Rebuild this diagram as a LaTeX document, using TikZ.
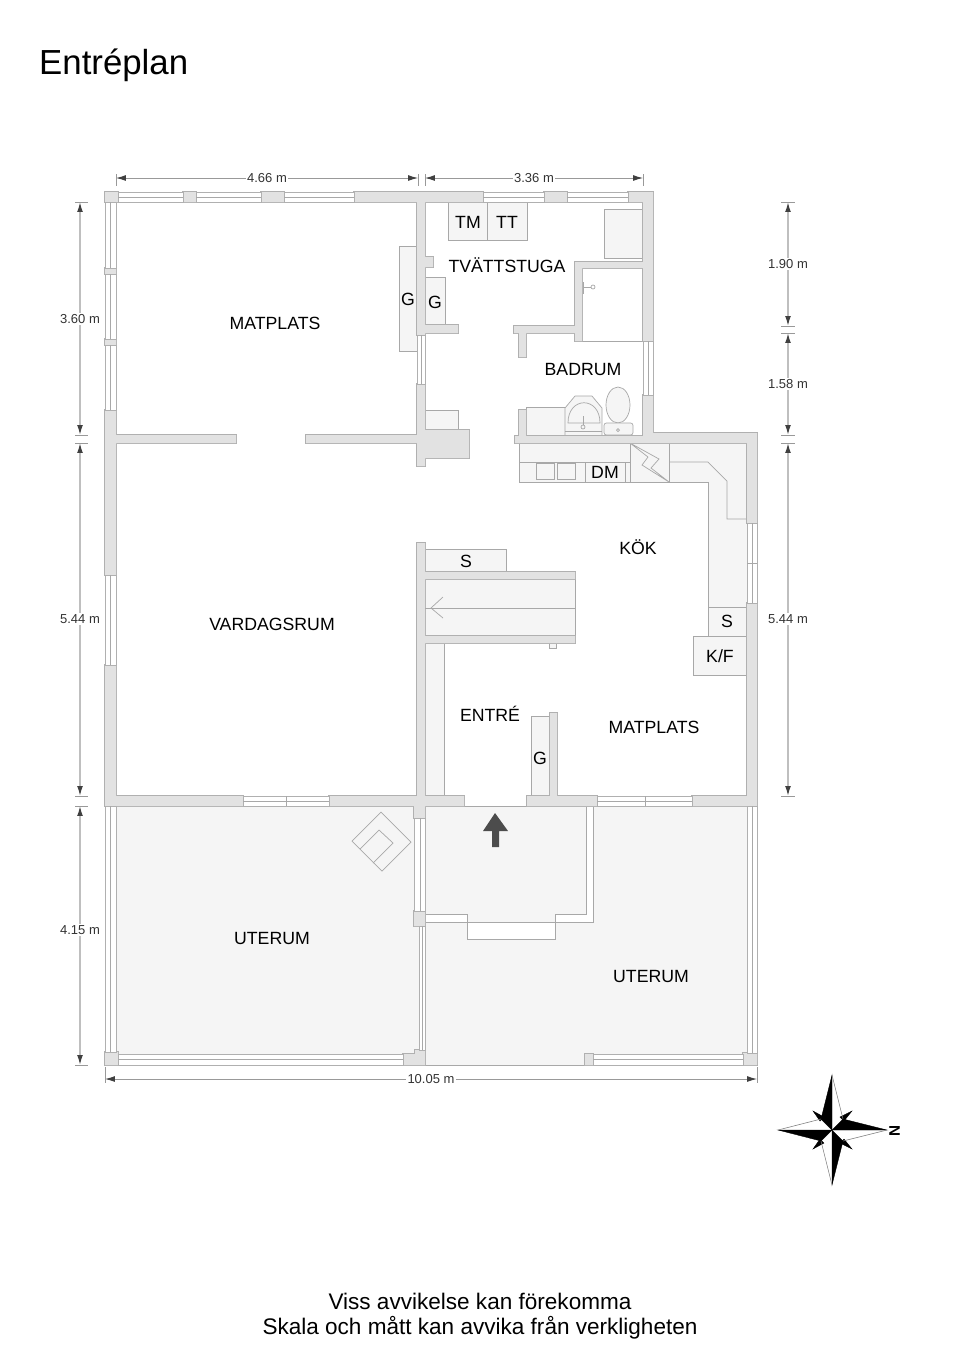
\documentclass[tikz,border=0pt]{standalone}
\usepackage{xcolor}
\usepackage{fontspec}
\setmainfont{Liberation Sans}
\usetikzlibrary{arrows.meta}

\definecolor{wallgray}{HTML}{E2E2E2}
\definecolor{walledge}{HTML}{B0B0B0}
\definecolor{fixturegray}{HTML}{F5F5F5}
\definecolor{fixtureedge}{HTML}{A8A8A8}
\definecolor{dimgray}{HTML}{999999}

% all wall pieces, in pixels of the plan
\newcommand{\wallpieces}{
	(105,192) rectangle (118,202) (183,192) rectangle (196,202) (261,192) rectangle (284,202)
	(354,192) rectangle (483,202) (544,192) rectangle (567,202) (628,192) rectangle (653,202)
	(643,192) rectangle (653,341) (643,395) rectangle (653,443)
	(515,436) rectangle (653,443) (653,433) rectangle (757,443)
	(747,433) rectangle (757,523) (747,603) rectangle (757,806)
	(417,192) rectangle (425,335) (417,384) rectangle (425,466)
	(425,257) rectangle (433,267) (425,325) rectangle (458,333) (425,430) rectangle (469,458)
	(575,262) rectangle (643,268) (575,262) rectangle (582,341) (514,326) rectangle (582,333)
	(519,333) rectangle (526,357) (519,410) rectangle (526,436)
	(105,410) rectangle (116,575) (105,665) rectangle (116,806)
	(105,268) rectangle (116,274) (105,339) rectangle (116,345)
	(116,435) rectangle (236,443) (306,435) rectangle (417,443)
	(105,796) rectangle (243,806) (329,796) rectangle (464,806)
	(527,796) rectangle (597,806) (692,796) rectangle (757,806)
	(417,543) rectangle (425,806) (414,806) rectangle (425,818) (414,911) rectangle (425,926)
	(425,572) rectangle (575,579) (425,636) rectangle (575,643)
	(550,713) rectangle (557,796)
	(105,1052) rectangle (118,1065) (403,1054) rectangle (425,1065) (415,1050) rectangle (425,1054)
	(585,1054) rectangle (593,1065) (743,1053) rectangle (757,1065)
}

\begin{document}
\begin{tikzpicture}[x=0.03cm,y=-0.03cm]
	\tikzstyle{wall}=[draw=walledge, line width=1.2pt]
	\tikzstyle{wallfill}=[fill=wallgray]
	\tikzstyle{fixture}=[fill=fixturegray, draw=fixtureedge, line width=0.6pt]
	\tikzstyle{window}=[fill=white, draw=walledge, line width=0.6pt]
	\tikzstyle{hairline}=[draw=fixtureedge, line width=0.6pt]
	\tikzstyle{dimline}=[draw=dimgray, line width=0.7pt, {Latex[length=8.5pt,width=5pt,color=black!75]}-{Latex[length=8.5pt,width=5pt,color=black!75]}]
	\tikzstyle{dimlinev}=[dimline, draw=black!25, line width=1.2pt]
	\tikzstyle{dimtick}=[draw=dimgray, line width=0.5pt]
	\tikzstyle{dimlabel}=[fill=white, inner sep=1pt, text=black!80, font=\fontsize{11.1}{13}\selectfont]
	\tikzstyle{roomlabel}=[inner sep=0pt, text=black, font=\fontsize{15.1}{17}\selectfont]
	\tikzstyle{footer}=[inner sep=0pt, font=\fontsize{19.25}{23}\selectfont]
	\tikzstyle{needle}=[fill=black, draw=black, line width=0.3pt]
	\tikzstyle{needleback}=[draw=black!50, line width=0.5pt]

	\useasboundingbox (0,0) rectangle (960,1358);

	\node[inner sep=0pt, anchor=west, font=\fontsize{29.7}{34}\selectfont](title) at (39,65) {Entréplan};

	% uterum floors
	\fill[fixturegray] (116,806) rectangle (425,1065);
	\fill[fixturegray] (425,806) rectangle (747,1065);
	\draw[hairline] (425,806) -- (747,806);
	\draw[hairline] (425,1065) -- (585,1065);

	% porch
	\fill[white] (425,914) rectangle (467,922);
	\fill[white] (555,914) -- (586,914) -- (586,806) -- (593,806) -- (593,922) -- (555,922) -- cycle;
	\fill[white] (467,922) rectangle (555,939);
	\draw[hairline] (425,914) -- (467,914) -- (467,939) -- (555,939) -- (555,914) -- (586,914) -- (586,806);
	\draw[hairline] (593,806) -- (593,922) -- (425,922);

	% stove on the uterum floor
	\draw[hairline] (381,812) -- (411,842) -- (382,871) -- (352,841) -- cycle;
	\draw[hairline] (360,849) -- (379,830) -- (393,843) -- (373,863);

	% entry arrow
	\fill[black!70] (495,813) -- (508,831) -- (499,831) -- (499,847) -- (492,847) -- (492,831) -- (483,831) -- cycle;

	% fixtures
	\draw[fixture] (399,246) rectangle (417,351);
	\draw[fixture] (425,277) rectangle (445,325);
	\draw[fixture] (448,202) rectangle (487,240);
	\draw[fixture] (487,202) rectangle (527,240);
	\draw[fixture] (604,209) rectangle (643,258);
	\draw[fixture] (425,410) rectangle (458,430);
	\draw[fixture] (526,407) rectangle (565,436);
	\draw[fixture] (425,549) rectangle (506,572);
	\draw[fixture] (425,579) rectangle (575,636);
	\draw[fixture] (549,643) rectangle (556,648);
	\draw[fixture] (425,643) rectangle (444,796);
	\draw[fixture] (531,716) rectangle (550,796);

	% bathroom
	\draw[fixture] (565,436) -- (565,408) -- (575,396) -- (592,396) -- (602,408) -- (602,436) -- cycle;
	\draw[hairline] (568,423) .. controls (568,396) and (600,396) .. (600,423) -- cycle;
	\draw[hairline] (565,431) -- (602,431);
	\draw[hairline] (583,416) -- (583,425);
	\draw[hairline] (583,427) circle (2);
	\draw[fixture] (618,405) ellipse (12 and 18);
	\draw[fixture, rounded corners=2pt] (604,423) rectangle (633,435);
	\draw[hairline] (618,430) circle (1.5);
	\draw[hairline] (582,341) -- (643,341);
	\draw[hairline] (583,282) -- (583,294);
	\draw[hairline] (581,287) -- (591,287);
	\draw[hairline] (593,287) circle (2);

	% kitchen
	\draw[fixture] (519,443) rectangle (630,482);
	\draw[hairline] (519,462) -- (630,462);
	\draw[hairline] (536,463) rectangle (554,479);
	\draw[hairline] (557,463) rectangle (575,479);
	\draw[hairline] (585,462) -- (585,482);
	\draw[hairline] (625,462) -- (625,482);
	\draw[fixture] (630,443) rectangle (669,482);
	\draw[hairline] (630,443) -- (659,459) -- (651,468) -- (669,482) -- (642,465) -- (648,457) -- cycle;
	\draw[fixture] (669,443) -- (747,443) -- (747,607) -- (708,607) -- (708,482) -- (669,482) -- cycle;
	\draw[hairline] (669,462) -- (708,462) -- (727,481) -- (727,519) -- (747,519);
	\draw[fixture] (708,607) rectangle (747,636);
	\draw[fixture] (693,636) rectangle (747,675);

	% walls, outlines first so that the pieces merge
	\draw[wall] \wallpieces;
	\fill[wallfill] \wallpieces;

	% counter with arrow
	\draw[hairline] (425,608) -- (575,608);
	\draw[hairline] (443,597) -- (431,608) -- (443,618);

	% windows
	\draw[window] (118,192) rectangle (183,202);
	\draw[window] (196,192) rectangle (261,202);
	\draw[window] (284,192) rectangle (354,202);
	\draw[window] (483,192) rectangle (544,202);
	\draw[window] (567,192) rectangle (628,202);
	\draw[hairline] (118,197) -- (183,197);
	\draw[hairline] (196,197) -- (261,197);
	\draw[hairline] (284,197) -- (354,197);
	\draw[hairline] (483,197) -- (544,197);
	\draw[hairline] (567,197) -- (628,197);
	\draw[window] (105,202) rectangle (116,268);
	\draw[window] (105,274) rectangle (116,339);
	\draw[window] (105,345) rectangle (116,410);
	\draw[window] (105,575) rectangle (116,665);
	\draw[window] (105,806) rectangle (116,1052);
	\draw[hairline] (110.5,202) -- (110.5,268);
	\draw[hairline] (110.5,274) -- (110.5,339);
	\draw[hairline] (110.5,345) -- (110.5,410);
	\draw[hairline] (110.5,575) -- (110.5,665);
	\draw[hairline] (110.5,806) -- (110.5,1052);
	\draw[window] (417,335) rectangle (425,384);
	\draw[hairline] (421,335) -- (421,384);
	\draw[window] (643,341) rectangle (653,395);
	\draw[hairline] (648,341) -- (648,395);
	\draw[window] (747,523) rectangle (757,603);
	\draw[hairline] (752,523) -- (752,603);
	\draw[hairline] (747,563) -- (757,563);
	\draw[window] (243,796) rectangle (329,806);
	\draw[hairline] (243,801) -- (329,801);
	\draw[hairline] (286,796) -- (286,806);
	\draw[window] (597,796) rectangle (692,806);
	\draw[hairline] (597,801) -- (692,801);
	\draw[hairline] (645,796) -- (645,806);
	\draw[window] (414,818) rectangle (425,911);
	\draw[hairline] (420,818) -- (420,911);
	\draw[window] (419,926) rectangle (425,1050);
	\draw[hairline] (422,926) -- (422,1050);
	\draw[window] (118,1054) rectangle (403,1065);
	\draw[hairline] (118,1059) -- (403,1059);
	\draw[window] (593,1054) rectangle (743,1065);
	\draw[hairline] (593,1059) -- (743,1059);
	\draw[window] (747,806) rectangle (757,1053);
	\draw[hairline] (752,806) -- (752,1053);

	% rooms
	\node[roomlabel](matplats1) at (275,323.5) {MATPLATS};
	\node[roomlabel](tvatt) at (507,265) {TVÄTTSTUGA};
	\node[roomlabel](tm) at (468,222.5) {TM};
	\node[roomlabel](tt) at (507,222.5) {TT};
	\node[roomlabel](g1) at (408,299.5) {G};
	\node[roomlabel](g2) at (435,302.5) {G};
	\node[roomlabel](badrum) at (583,369.5) {BADRUM};
	\node[roomlabel](dm) at (605,472.5) {DM};
	\node[roomlabel](kok) at (638,547) {KÖK};
	\node[roomlabel](s1) at (466,561.5) {S};
	\node[roomlabel](vardagsrum) at (272,624) {VARDAGSRUM};
	\node[roomlabel](s2) at (727,621.5) {S};
	\node[roomlabel](kf) at (720,656.5) {K/F};
	\node[roomlabel](entre) at (490,714) {ENTRÉ};
	\node[roomlabel](matplats2) at (654,727.5) {MATPLATS};
	\node[roomlabel](g3) at (540,758.5) {G};
	\node[roomlabel](uterum1) at (272,938.5) {UTERUM};
	\node[roomlabel](uterum2) at (651,976.5) {UTERUM};

	% measures on top
	\coordinate(topa) at (116,178);
	\coordinate(topb) at (418,178);
	\coordinate(topc) at (425,178);
	\coordinate(topd) at (643,178);
	\draw[dimline](topa) to (topb);
	\draw[dimline](topc) to (topd);
	\draw[dimtick](topa) ++(0,-4) -- +(0,12);
	\draw[dimtick](topb) ++(0,-4) -- +(0,12);
	\draw[dimtick](topc) ++(0,-4) -- +(0,12);
	\draw[dimtick](topd) ++(0,-4) -- +(0,12);
	\node[dimlabel](dima) at (267,178) {4.66 m};
	\node[dimlabel](dimb) at (534,178) {3.36 m};

	% measure below
	\coordinate(bota) at (105,1079);
	\coordinate(botb) at (757,1079);
	\draw[dimline](bota) to (botb);
	\draw[dimtick](bota) ++(0,-12) -- +(0,16);
	\draw[dimtick](botb) ++(0,-12) -- +(0,16);
	\node[dimlabel](dimc) at (431,1079) {10.05 m};

	% measures left
	\coordinate(lefta) at (80,202);
	\coordinate(leftb) at (80,435);
	\coordinate(leftc) at (80,443);
	\coordinate(leftd) at (80,796);
	\coordinate(lefte) at (80,806);
	\coordinate(leftf) at (80,1065);
	\draw[dimlinev](lefta) to (leftb);
	\draw[dimlinev](leftc) to (leftd);
	\draw[dimlinev](lefte) to (leftf);
	\draw[dimtick](lefta) ++(-5,0) -- +(13,0);
	\draw[dimtick](leftb) ++(-5,0) -- +(13,0);
	\draw[dimtick](leftc) ++(-5,0) -- +(13,0);
	\draw[dimtick](leftd) ++(-5,0) -- +(13,0);
	\draw[dimtick](lefte) ++(-5,0) -- +(13,0);
	\draw[dimtick](leftf) ++(-5,0) -- +(13,0);
	\node[dimlabel](dimd) at (80,319) {3.60 m};
	\node[dimlabel](dime) at (80,619) {5.44 m};
	\node[dimlabel](dimf) at (80,930) {4.15 m};

	% measures right
	\coordinate(righta) at (788,202);
	\coordinate(rightb) at (788,326);
	\coordinate(rightc) at (788,333);
	\coordinate(rightd) at (788,435);
	\coordinate(righte) at (788,443);
	\coordinate(rightf) at (788,796);
	\draw[dimlinev](righta) to (rightb);
	\draw[dimlinev](rightc) to (rightd);
	\draw[dimlinev](righte) to (rightf);
	\draw[dimtick](righta) ++(-7,0) -- +(14,0);
	\draw[dimtick](rightb) ++(-7,0) -- +(14,0);
	\draw[dimtick](rightc) ++(-7,0) -- +(14,0);
	\draw[dimtick](rightd) ++(-7,0) -- +(14,0);
	\draw[dimtick](righte) ++(-7,0) -- +(14,0);
	\draw[dimtick](rightf) ++(-7,0) -- +(14,0);
	\node[dimlabel](dimg) at (788,264) {1.90 m};
	\node[dimlabel](dimh) at (788,384) {1.58 m};
	\node[dimlabel](dimi) at (788,619) {5.44 m};

	% compass
	\coordinate(center) at (832,1130);
	\draw[needle] (813,1111) -- (824,1117) -- (820,1121) -- cycle;
	\draw[needle] (852,1111) -- (840,1117) -- (844,1121) -- cycle;
	\draw[needle] (813,1149) -- (824,1143) -- (820,1139) -- cycle;
	\draw[needle] (852,1149) -- (840,1143) -- (844,1139) -- cycle;
	\draw[needle] (832,1075) -- (821,1119) -- (center) -- cycle;
	\draw[needle] (887,1130) -- (843,1119) -- (center) -- cycle;
	\draw[needle] (832,1185) -- (843,1141) -- (center) -- cycle;
	\draw[needle] (778,1130) -- (821,1141) -- (center) -- cycle;
	\draw[needleback] (832,1075) -- (843,1119);
	\draw[needleback] (887,1130) -- (843,1141);
	\draw[needleback] (832,1185) -- (821,1141);
	\draw[needleback] (778,1130) -- (821,1119);
	\node[inner sep=0pt, rotate=-90, font=\fontsize{13}{13}\selectfont\bfseries](north) at (894.5,1131) {N};

	% note
	\node[footer](notea) at (480,1301) {Viss avvikelse kan förekomma};
	\node[footer](noteb) at (480,1328) {Skala och mått kan avvika från verkligheten};
\end{tikzpicture}
\end{document}
